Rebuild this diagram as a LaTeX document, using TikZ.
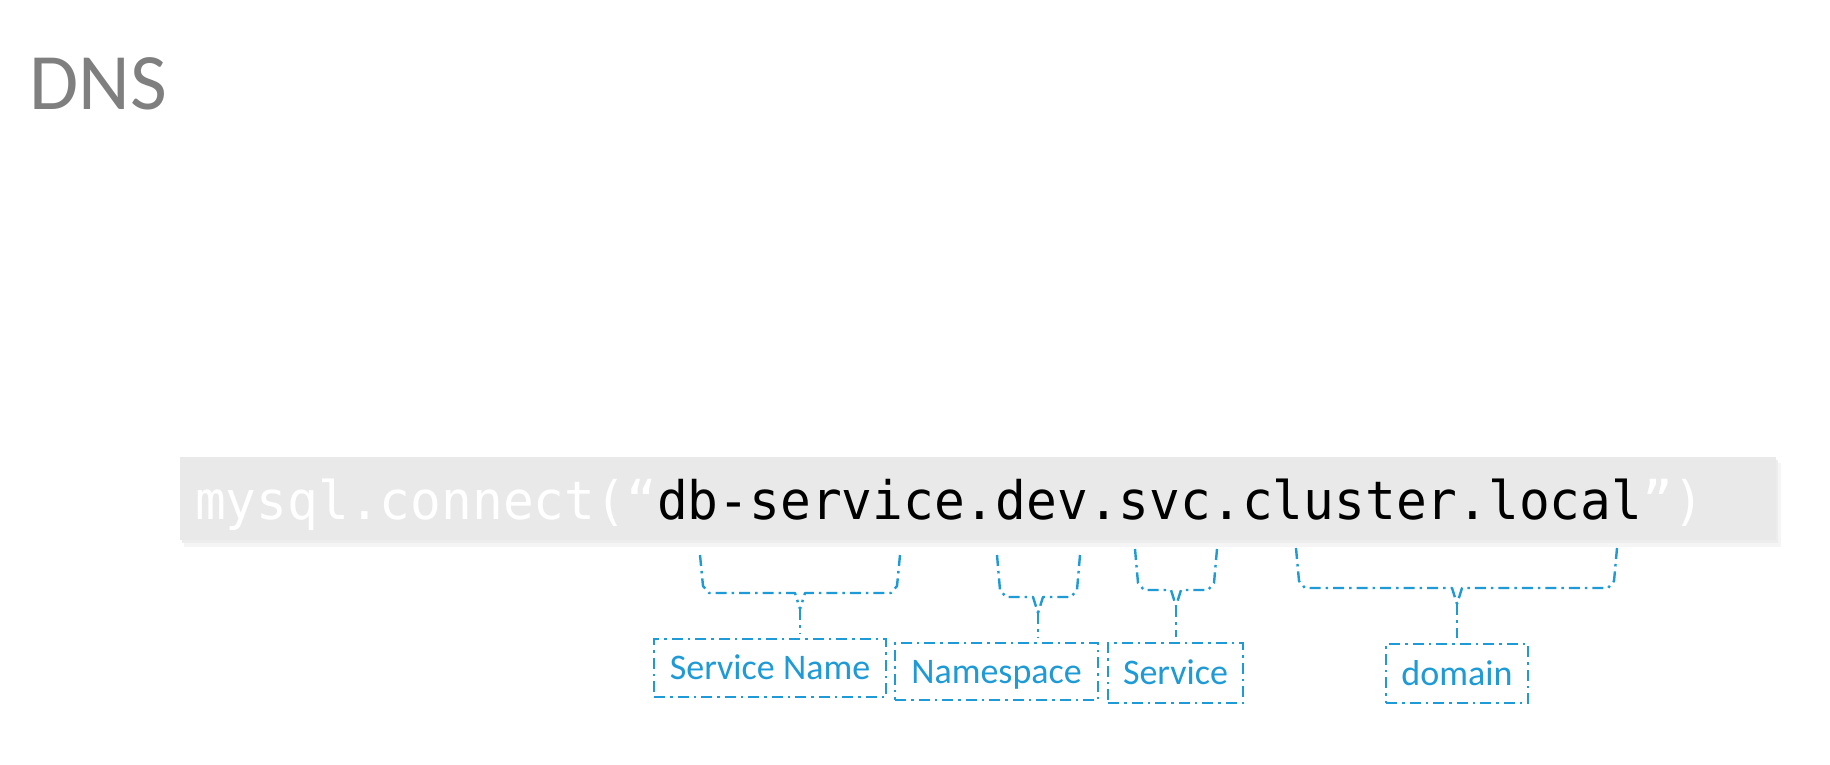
\documentclass[tikz,border=0pt]{standalone}
\usepackage{fontspec}
\setmainfont{Carlito}
\newfontfamily\codefont[FakeStretch=0.965]{DejaVu Sans Mono}
\definecolor{dnsblue}{HTML}{1E9AD6}
\definecolor{bargray}{HTML}{E9E9E9}
\definecolor{titlegray}{HTML}{7F7F7F}
\newcommand\dnsbrace[6]{%
  \draw[brace] (#1,#3) -- (#1+3,#4-7) -- (#1+9,#4) -- (#5-5,#4) -- (#5,#4+16) coordinate (#6);
  \draw[brace] (#2,#3) -- (#2-3,#4-7) -- (#2-9,#4) -- (#5+5,#4) -- (#5,#4+16);
}
\begin{document}
\begin{tikzpicture}[x=1pt,y=-1pt,
  dashdot/.style={draw=dnsblue, line width=2.4pt, dash pattern=on 11pt off 5pt on 2.5pt off 5pt},
  labelbox/.style={dashdot, fill=white, inner sep=0pt, text=dnsblue,
    font=\fontsize{36}{43}\selectfont, text height=23pt, text depth=0pt},
  brace/.style={dashdot, line join=round},
  stem/.style={dashdot, shorten >=5pt}
]
\useasboundingbox (0,0) rectangle (1830,764);
\fill[white] (0,0) rectangle (1830,764);
\node[anchor=base west, inner sep=0pt, text=titlegray, font=\fontsize{80}{96}\selectfont] (title) at (29,109) {DNS};
% soft shadow of the code bar
\fill[black!4] (184,463) rectangle (1781,547);
\fill[black!7] (182,460) rectangle (1778,543);
\node[fill=bargray, minimum width=1596pt, minimum height=83pt, inner sep=0pt, anchor=north west] (bar) at (180,457) {};
\node[anchor=base west, inner sep=0pt, font=\codefont\fontsize{53}{62}\selectfont] (code) at (195,519)
  {\textcolor{white}{mysql.connect(“}db-service.dev.svc.cluster.local\textcolor{white}{”)}};
% label boxes
\node[labelbox, minimum width=232pt, minimum height=58pt] (sn) at (770,668) {Service Name};
\node[labelbox, minimum width=203pt, minimum height=57pt] (ns) at (996.5,671.5) {Namespace};
\node[labelbox, minimum width=135pt, minimum height=60pt] (sv) at (1175.5,673) {Service};
\node[labelbox, minimum width=142pt, minimum height=59pt] (dm) at (1457,673.5) {domain};
% braces
\dnsbrace{700}{900}{555}{593}{800}{tipsn}
\dnsbrace{997}{1080}{555}{597}{1038}{tipns}
\dnsbrace{1135}{1217}{549}{590}{1176}{tipsv}
\dnsbrace{1296}{1617}{548}{588}{1457}{tipdm}
\draw[stem] (tipsn) -- (tipsn |- sn.north);
\draw[stem] (tipns) -- (tipns |- ns.north);
\draw[stem] (tipsv) -- (tipsv |- sv.north);
\draw[stem] (tipdm) -- (tipdm |- dm.north);
\end{tikzpicture}
\end{document}
